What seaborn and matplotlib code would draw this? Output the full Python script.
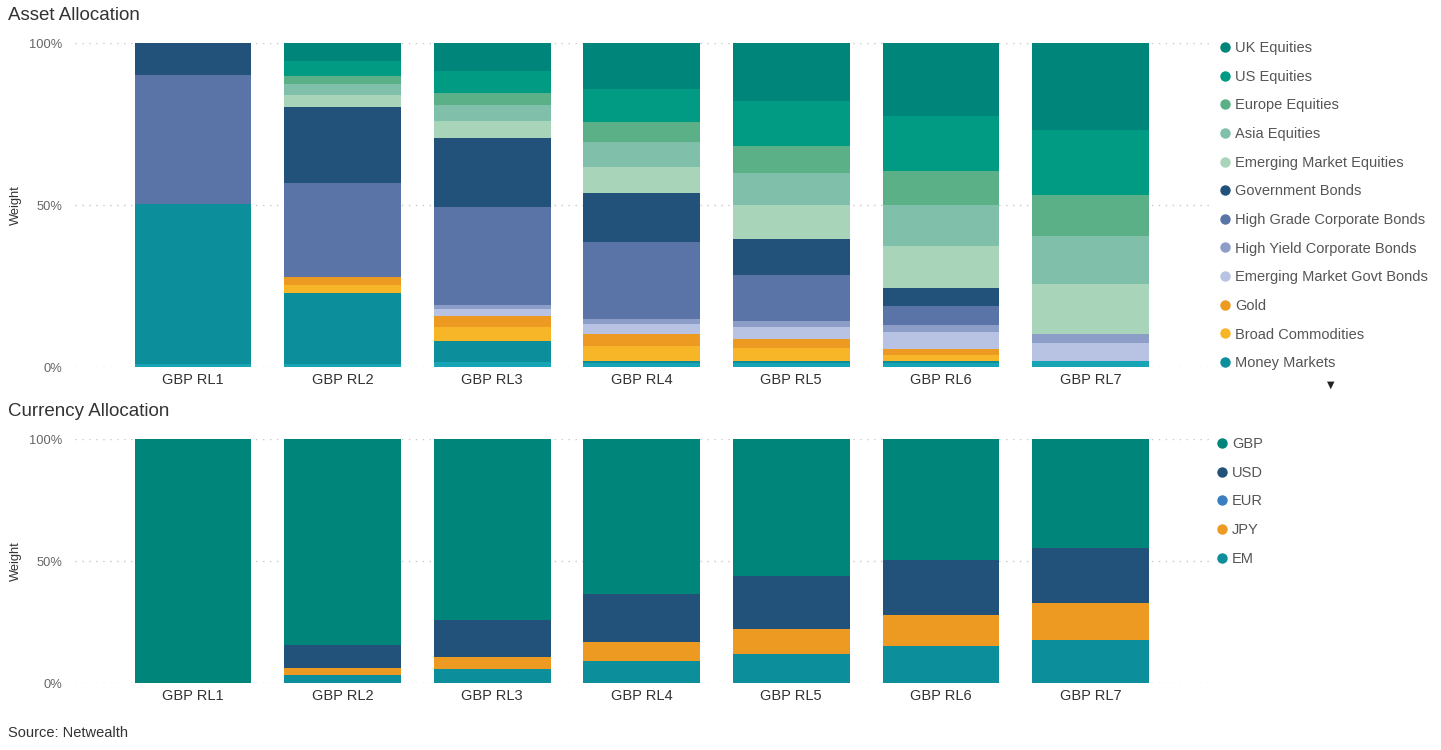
import matplotlib

matplotlib.use("Agg")
import matplotlib.pyplot as plt
import numpy as np
import pandas as pd
import seaborn as sns
from matplotlib.lines import Line2D

# Portfolios (x axis)
portfolios = ["GBP RL1", "GBP RL2", "GBP RL3", "GBP RL4", "GBP RL5", "GBP RL6", "GBP RL7"]

# Asset allocation weights (%), listed top of the stack first
asset_names = [
    "UK Equities",
    "US Equities",
    "Europe Equities",
    "Asia Equities",
    "Emerging Market Equities",
    "Government Bonds",
    "High Grade Corporate Bonds",
    "High Yield Corporate Bonds",
    "Emerging Market Govt Bonds",
    "Gold",
    "Broad Commodities",
    "Money Markets",
    "Cash",  # hidden behind the legend scroll arrow
]
uk_equities = [0, 5.6, 8.7, 14.1, 17.9, 22.5, 26.7]
us_equities = [0, 4.6, 6.6, 10.2, 13.8, 17.0, 20.2]
europe_equities = [0, 2.6, 3.9, 6.4, 8.5, 10.6, 12.6]
asia_equities = [0, 3.4, 4.9, 7.6, 9.9, 12.5, 14.8]
em_equities = [0, 3.4, 5.1, 7.9, 10.5, 13.0, 15.6]
government_bonds = [9.8, 23.6, 21.4, 15.1, 10.9, 5.5, 0]
high_grade_bonds = [40.0, 29.1, 30.2, 23.9, 14.3, 5.8, 0]
high_yield_bonds = [0, 0, 1.2, 1.5, 1.9, 2.2, 2.6]
em_govt_bonds = [0, 0, 2.4, 3.1, 3.8, 5.2, 5.7]
gold = [0, 2.4, 3.1, 3.6, 2.7, 2.1, 0]
broad_commodities = [0, 2.4, 4.6, 4.6, 3.8, 1.8, 0]
money_markets = [49.4, 21.9, 6.4, 0.8, 0.7, 0.5, 0]
cash = [0.8, 1.0, 1.5, 1.2, 1.3, 1.3, 1.8]
asset_values = [
    uk_equities, us_equities, europe_equities, asia_equities, em_equities,
    government_bonds, high_grade_bonds, high_yield_bonds, em_govt_bonds,
    gold, broad_commodities, money_markets, cash,
]
asset_colors = [
    "#00857a", "#009b82", "#5bb088", "#80bfaa", "#a8d5b9", "#22527a",
    "#5b74a8", "#8c9dc8", "#b8c2e3", "#ec9a22", "#f6b628", "#0c8f9a", "#17a5b5",
]

# Currency allocation weights (%), top of the stack first
currency_names = ["GBP", "USD", "EUR", "JPY", "EM"]
gbp = [100, 84.5, 74.0, 63.5, 56.3, 49.5, 44.6]
usd = [0, 9.3, 15.4, 19.8, 21.6, 22.8, 22.6]
eur = [0, 0, 0, 0, 0, 0, 0]
jpy = [0, 3.1, 4.9, 7.6, 10.1, 12.7, 15.1]
em = [0, 3.1, 5.7, 9.1, 12.0, 15.0, 17.7]
currency_values = [gbp, usd, eur, jpy, em]
currency_colors = ["#00857a", "#22527a", "#3a7ec2", "#ec9a22", "#0c8f9a"]

FONT = ["Liberation Sans", "DejaVu Sans"]
TEXT = "#333333"
LEGEND_TEXT = "#555555"
TICK_GREY = "#666666"


def stacked_bars(ax, names, values, colors):
    """Stacked bars drawn as overlapping cumulative bars (largest first)."""
    df = pd.DataFrame(values, index=names, columns=portfolios).T
    cum = df[names[::-1]].cumsum(axis=1)  # bottom-up cumulative
    for name in names:  # top segment first -> tallest bar first
        color = colors[names.index(name)]
        sns.barplot(
            x=portfolios,
            y=cum[name].values,
            color=color,
            saturation=1,
            width=0.78,
            errorbar=None,
            linewidth=0,
            ax=ax,
            zorder=2,
        )

    ax.set_xlim(-0.79, 6.8)
    ax.set_ylim(0, 100)
    ax.set_yticks([0, 50, 100])
    ax.set_yticklabels(["0%", "50%", "100%"], color=TICK_GREY, fontsize=9.3, family=FONT)
    for y in [0, 50, 100]:
        ax.axhline(y, color="#c8c8c8", linestyle=(0, (1, 4)), linewidth=1, zorder=1)
    ax.set_xticks(range(len(portfolios)))
    ax.set_xticklabels(portfolios, color=TEXT, fontsize=10.5, family=FONT)
    ax.tick_params(axis="y", length=0, pad=9)
    ax.tick_params(axis="x", length=0, pad=4)
    ax.set_ylabel("Weight", color=TEXT, fontsize=9.3, family=FONT, labelpad=5.5)
    ax.set_xlabel("")
    ax.grid(False)
    for spine in ax.spines.values():
        spine.set_visible(False)


def dot_legend(fig, names, colors, anchor, shown):
    handles = [
        Line2D([], [], marker="o", linestyle="", markersize=7.5,
               markerfacecolor=colors[i], markeredgewidth=0)
        for i in range(shown)
    ]
    leg = fig.legend(
        handles, names[:shown],
        loc="upper left", bbox_to_anchor=anchor, frameon=False,
        handlelength=0.6, handletextpad=0.35, labelspacing=1.005,
        borderaxespad=0, borderpad=0,
        prop={"family": FONT, "size": 10.5},
    )
    for t in leg.get_texts():
        t.set_color(LEGEND_TEXT)
    return leg


sns.set_theme(style="white")
plt.rcParams["font.family"] = FONT

W, H = 1441, 750
fig = plt.figure(figsize=(W / 100, H / 100), dpi=100)
fig.patch.set_facecolor("white")

ax_top = fig.add_axes([75 / W, 1 - 367 / H, 1135 / W, 324 / H])
ax_bot = fig.add_axes([75 / W, 1 - 683 / H, 1135 / W, 244 / H])

stacked_bars(ax_top, asset_names, asset_values, asset_colors)
stacked_bars(ax_bot, currency_names, currency_values, currency_colors)

fig.text(8 / W, 1 - 16 / H, "Asset Allocation", fontsize=13.5, color=TEXT, va="center")
fig.text(8 / W, 1 - 411 / H, "Currency Allocation", fontsize=13.5, color=TEXT, va="center")
fig.text(8 / W, 1 - 733 / H, "Source: Netwealth", fontsize=10.5, color=TEXT, va="center")

dot_legend(fig, asset_names, asset_colors, (1221 / W, 1 - 41 / H), shown=12)
dot_legend(fig, currency_names, currency_colors, (1218 / W, 1 - 437 / H), shown=5)
fig.text(1331 / W, 1 - 385 / H, "\u25bc", fontsize=7, color="#222222",
         ha="center", va="center", family=["DejaVu Sans"])

fig.savefig("out.png", dpi=100, facecolor="white")
